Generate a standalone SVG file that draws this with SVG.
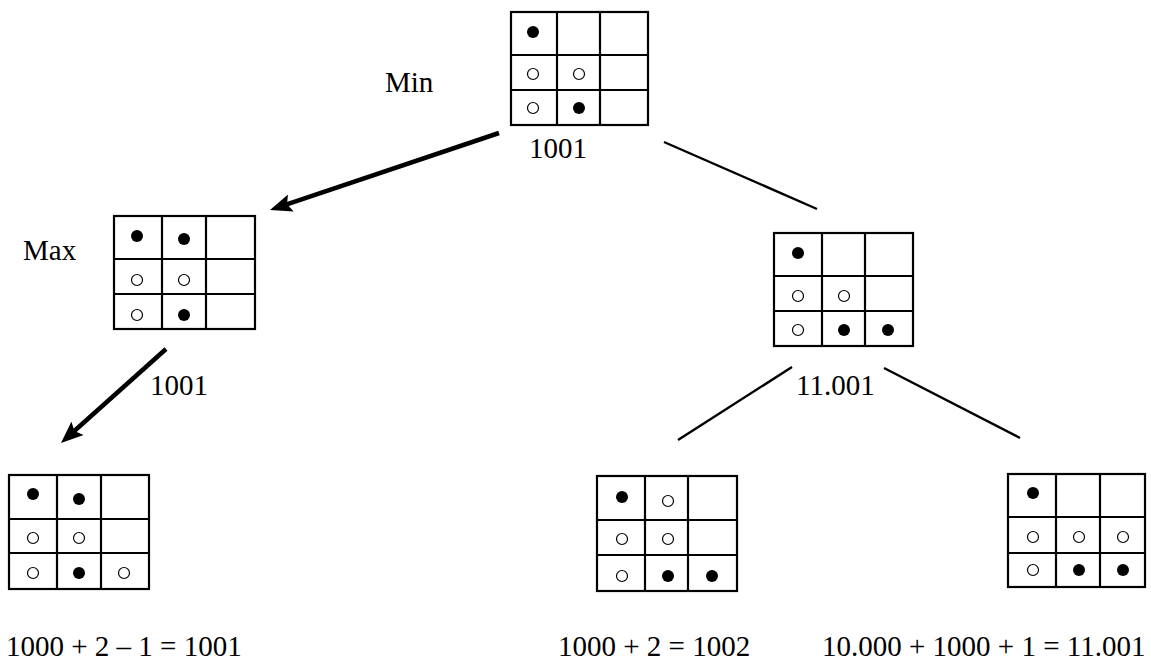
<svg xmlns="http://www.w3.org/2000/svg" width="1151" height="665" viewBox="0 0 1151 665">
<style>
.g{fill:none;stroke:#000;stroke-width:2.2}
.f{fill:#000}
.h{fill:none;stroke:#000;stroke-width:1.2}
.t{font-family:"Liberation Serif","Times New Roman",serif;font-size:29px;fill:#000}
.thin{stroke:#000;stroke-width:2.4;fill:none}
.thick{stroke:#000;stroke-width:4.5;fill:none;marker-end:url(#ah)}
</style>
<defs>
<marker id="ah" viewBox="0 0 22 18" refX="9" refY="9" markerWidth="22" markerHeight="18" markerUnits="userSpaceOnUse" orient="auto">
<path d="M0,0 L22,9 L0,18 L4,9 z" fill="#000"/>
</marker>
</defs>
<rect width="1151" height="665" fill="#fff"/>
<g id="connectors">
<line class="thick" x1="499" y1="133" x2="282.3" y2="205.9"/>
<line class="thick" x1="166" y1="349" x2="70.7" y2="434.3"/>
<line class="thin" x1="664" y1="142" x2="817" y2="209"/>
<line class="thin" x1="792" y1="367" x2="678" y2="440"/>
<line class="thin" x1="884" y1="368" x2="1020" y2="438"/>
</g>
<g id="node-root">
<rect class="g" x="511" y="12" width="137" height="113"/>
<path class="g" d="M557,12V125M600,12V125M511,55H648M511,90H648"/>
<circle class="f" cx="533" cy="32" r="6"/>
<circle class="h" cx="533" cy="74" r="5.5"/><circle class="h" cx="579" cy="74" r="5.5"/>
<circle class="h" cx="533" cy="108" r="5.5"/><circle class="f" cx="579" cy="108" r="6"/>
<text class="t" x="385" y="92">Min</text>
<text class="t" x="529" y="158">1001</text>
</g>
<g id="node-max">
<rect class="g" x="114" y="216" width="141" height="113"/>
<path class="g" d="M162,216V329M206,216V329M114,259H255M114,294H255"/>
<circle class="f" cx="137" cy="236" r="6"/><circle class="f" cx="184" cy="239" r="6"/>
<circle class="h" cx="137" cy="280" r="5.5"/><circle class="h" cx="184" cy="280" r="5.5"/>
<circle class="h" cx="137" cy="315" r="5.5"/><circle class="f" cx="184" cy="315" r="6"/>
<text class="t" x="23" y="260">Max</text>
<text class="t" x="150" y="395">1001</text>
</g>
<g id="node-right">
<rect class="g" x="774" y="233" width="139" height="113"/>
<path class="g" d="M822,233V346M865,233V346M774,276H913M774,311H913"/>
<circle class="f" cx="798" cy="253" r="6"/>
<circle class="h" cx="798" cy="296" r="5.5"/><circle class="h" cx="844" cy="296" r="5.5"/>
<circle class="h" cx="798" cy="330" r="5.5"/><circle class="f" cx="844" cy="330" r="6"/><circle class="f" cx="888" cy="330" r="6"/>
<text class="t" x="796" y="395">11.001</text>
</g>
<g id="node-leaf1">
<rect class="g" x="9" y="475" width="140" height="114"/>
<path class="g" d="M57,475V589M101,475V589M9,519H149M9,553H149"/>
<circle class="f" cx="33" cy="494" r="6"/><circle class="f" cx="79" cy="499" r="6"/>
<circle class="h" cx="33" cy="538" r="5.5"/><circle class="h" cx="79" cy="538" r="5.5"/>
<circle class="h" cx="33" cy="573" r="5.5"/><circle class="f" cx="79" cy="573" r="6"/><circle class="h" cx="124" cy="573" r="5.5"/>
<text class="t" x="6" y="656">1000 + 2 – 1 = 1001</text>
</g>
<g id="node-leaf2">
<rect class="g" x="597" y="476" width="140" height="115"/>
<path class="g" d="M645,476V591M688,476V591M597,520H737M597,555H737"/>
<circle class="f" cx="622" cy="497" r="6"/><circle class="h" cx="668" cy="501" r="5.5"/>
<circle class="h" cx="622" cy="539" r="5.5"/><circle class="h" cx="668" cy="539" r="5.5"/>
<circle class="h" cx="622" cy="576" r="5.5"/><circle class="f" cx="668" cy="576" r="6"/><circle class="f" cx="712" cy="576" r="6"/>
<text class="t" x="558" y="656">1000 + 2 = 1002</text>
</g>
<g id="node-leaf3">
<rect class="g" x="1008" y="474" width="137" height="113"/>
<path class="g" d="M1056,474V587M1100,474V587M1008,517H1145M1008,553H1145"/>
<circle class="f" cx="1033" cy="493" r="6"/>
<circle class="h" cx="1033" cy="537" r="5.5"/><circle class="h" cx="1079" cy="537" r="5.5"/><circle class="h" cx="1123" cy="537" r="5.5"/>
<circle class="h" cx="1033" cy="570" r="5.5"/><circle class="f" cx="1079" cy="570" r="6"/><circle class="f" cx="1123" cy="570" r="6"/>
<text class="t" x="822" y="656">10.000 + 1000 + 1 = 11.001</text>
</g>
</svg>
